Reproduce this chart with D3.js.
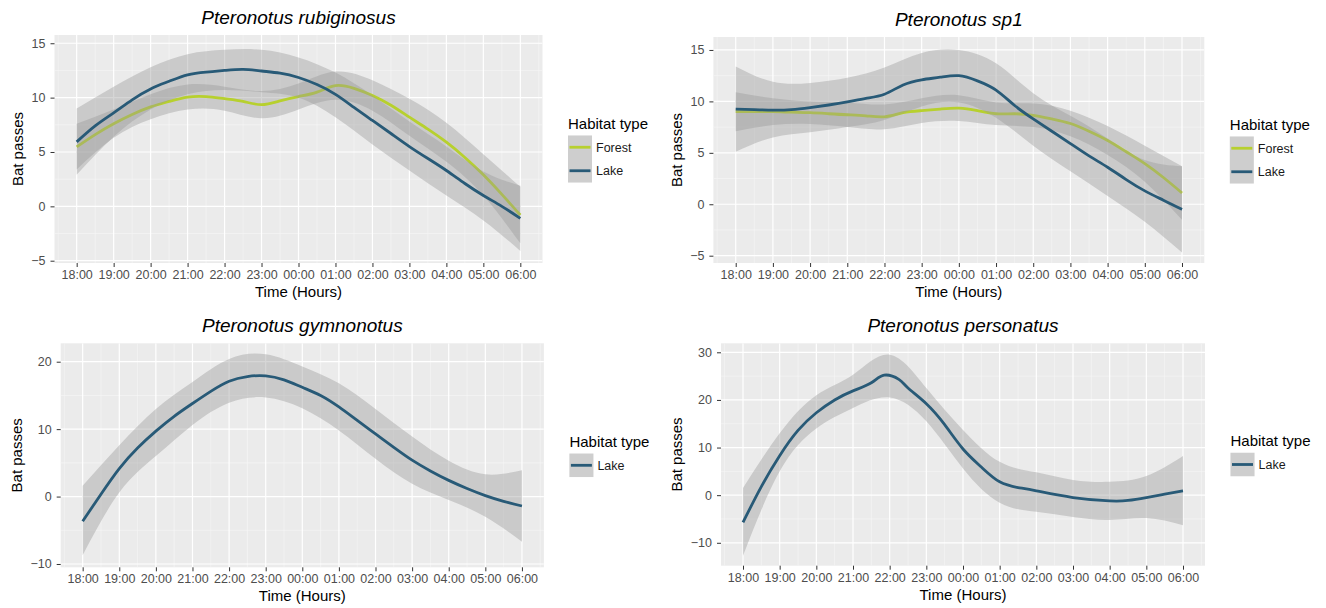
<!DOCTYPE html>
<html>
<head>
<meta charset="utf-8">
<script src="https://cdn.jsdelivr.net/npm/d3@7"></script>
<style>
body { margin: 0; background: #ffffff; }
text { font-family: Arial, "Liberation Sans", sans-serif; }
</style>
</head>
<body>
<svg id="chart" width="1326" height="608"></svg>
<script>
// hours after 18:00
var timeLabels = ["18:00", "19:00", "20:00", "21:00", "22:00", "23:00", "00:00", "01:00", "02:00", "03:00", "04:00", "05:00", "06:00"];
var habitatColors = {Forest: "#b7d02e", Lake: "#285a77"};

var halfHours = [0, 0.5, 1, 1.5, 2, 2.5, 3, 3.5, 4, 4.5, 5, 5.5, 6, 6.5, 7, 7.5, 8, 8.5, 9, 9.5, 10, 10.5, 11, 11.5, 12];
var wholeHours = [0, 1, 2, 3, 4, 5, 6, 7, 8, 9, 10, 11, 12];

// Pteronotus rubiginosus
var rubForestFit = [5.47, 6.6, 7.6, 8.45, 9.15, 9.65, 10.05, 10.1, 9.9, 9.65, 9.35, 9.7, 10.1, 10.5, 11.1, 10.85, 10.2, 9.3, 8.2, 7.1, 5.9, 4.5, 2.9, 1.1, -0.8];
var rubForestLow = [3.4, 6.3, 8.0, 8.9, 8.8, 8.1, 8.9, 9.8, 8.8, 6.5, 4.1, 1.0, -3.4];
var rubForestHigh = [7.6, 8.9, 10.3, 11.2, 11.0, 10.6, 11.3, 12.4, 11.6, 9.9, 7.7, 4.8, 1.8];
var rubLakeFit = [5.93, 7.4, 8.6, 9.8, 10.8, 11.5, 12.1, 12.35, 12.5, 12.6, 12.45, 12.25, 11.85, 11.2, 10.3, 9.1, 7.9, 6.7, 5.5, 4.4, 3.3, 2.1, 1.0, 0.0, -1.1];
var rubLakeLow = [2.9, 6.4, 8.9, 10.3, 10.7, 10.5, 10.0, 8.2, 5.7, 3.3, 1.0, -1.3, -4.1];
var rubLakeHigh = [9.0, 11.0, 12.8, 14.0, 14.4, 14.4, 13.7, 12.3, 10.2, 7.8, 5.5, 3.2, 1.9];

// Pteronotus sp1
var sp1ForestFit = [9.0, 9.0, 9.0, 8.95, 8.9, 8.8, 8.7, 8.6, 8.5, 8.9, 9.1, 9.25, 9.35, 9.1, 8.8, 8.8, 8.65, 8.3, 7.85, 7.1, 6.2, 5.1, 3.95, 2.6, 1.1];
var sp1ForestLow = [7.1, 7.7, 7.8, 7.5, 7.3, 7.9, 8.1, 7.7, 7.5, 6.6, 4.8, 2.2, -1.5];
var sp1ForestHigh = [10.9, 10.3, 10.0, 9.9, 9.7, 10.3, 10.6, 9.9, 9.8, 9.1, 7.6, 5.7, 3.7];
var sp1LakeFit = [9.24, 9.2, 9.15, 9.2, 9.4, 9.65, 9.95, 10.3, 10.7, 11.6, 12.1, 12.35, 12.5, 12.0, 11.1, 9.6, 8.3, 7.1, 5.9, 4.7, 3.6, 2.4, 1.3, 0.4, -0.5];
var sp1LakeLow = [5.1, 6.5, 7.0, 7.5, 8.2, 9.5, 9.9, 8.4, 5.7, 3.2, 0.8, -1.7, -4.7];
var sp1LakeHigh = [13.4, 11.9, 11.8, 12.3, 13.3, 14.7, 15.0, 13.7, 10.8, 8.6, 6.4, 4.3, 3.7];

// Pteronotus gymnonotus
var gymLakeFit = [-3.65, 0.35, 4.15, 7.2, 9.7, 11.9, 13.8, 15.6, 17.1, 17.8, 17.9, 17.3, 16.2, 15.0, 13.3, 11.3, 9.3, 7.3, 5.4, 3.8, 2.4, 1.2, 0.15, -0.7, -1.4];
var gymLakeLow = [-8.7, 0.6, 6.0, 10.6, 13.9, 14.7, 13.1, 9.8, 5.6, 1.9, -0.5, -3.0, -6.7];
var gymLakeHigh = [1.6, 7.6, 13.0, 17.0, 20.4, 21.1, 19.3, 16.8, 13.0, 8.9, 5.3, 3.3, 3.9];

// Pteronotus personatus
var perHours = [0, 0.5, 1, 1.5, 2, 2.5, 3, 3.5, 3.85, 4.25, 4.5, 5, 5.5, 6, 6.5, 7, 7.5, 8, 9, 10, 10.5, 11, 11.5, 12];
var perLakeFit = [-5.7, 1.8, 8.3, 13.6, 17.3, 20.0, 21.9, 23.6, 25.2, 24.3, 22.5, 19.2, 14.8, 9.7, 5.9, 2.8, 1.6, 0.9, -0.5, -1.2, -1.1, -0.5, 0.2, 0.9];
var perLakeLow = [-12.7, 5.0, 14.0, 18.3, 20.5, 15.5, 5.6, -1.6, -3.5, -4.6, -5.2, -4.8, -6.3];
var perLakeHigh = [1.5, 13.0, 21.0, 25.3, 29.5, 22.5, 13.7, 7.0, 4.8, 3.2, 2.8, 4.0, 8.2];

var panels = [
    {title: "Pteronotus rubiginosus", left: 54.5, right: 542.5, top: 35, bottom: 263, yMin: -5.21, yMax: 15.76, yStep: 5,
     series: [
        {habitat: "Forest", hours: halfHours, fit: rubForestFit, low: rubForestLow, high: rubForestHigh},
        {habitat: "Lake", hours: halfHours, fit: rubLakeFit, low: rubLakeLow, high: rubLakeHigh}
     ]},
    {title: "Pteronotus sp1", left: 713.4, right: 1204.3, top: 37, bottom: 263, yMin: -5.71, yMax: 16.26, yStep: 5,
     series: [
        {habitat: "Forest", hours: halfHours, fit: sp1ForestFit, low: sp1ForestLow, high: sp1ForestHigh},
        {habitat: "Lake", hours: halfHours, fit: sp1LakeFit, low: sp1LakeLow, high: sp1LakeHigh}
     ]},
    {title: "Pteronotus gymnonotus", left: 60.7, right: 543.9, top: 343.3, bottom: 567.3, yMin: -10.49, yMax: 22.73, yStep: 10,
     series: [
        {habitat: "Lake", hours: halfHours, fit: gymLakeFit, low: gymLakeLow, high: gymLakeHigh}
     ]},
    {title: "Pteronotus personatus", left: 721, right: 1205, top: 343.3, bottom: 565.7, yMin: -14.81, yMax: 31.89, yStep: 10,
     series: [
        {habitat: "Lake", hours: perHours, fit: perLakeFit, low: perLakeLow, high: perLakeHigh}
     ]}
];

var svg = d3.select("#chart");

var halfSteps = function(lo, hi, step)
{
    var out = [];
    for (var v = Math.ceil(lo / step) * step; v <= hi; v += step)
    {
        out.push(Math.round(v * 100) / 100);
    }
    return out;
}

var drawPanel = function(p, index)
{
    var x = d3.scaleLinear().domain([-0.6, 12.6]).range([p.left, p.right]);
    var y = d3.scaleLinear().domain([p.yMin, p.yMax]).range([p.bottom, p.top]);
    var g = svg.append("g").attr("class", "panel");

    g.append("clipPath")
        .attr("id", "clip" + index)
        .append("rect")
        .attr("x", p.left).attr("y", p.top)
        .attr("width", p.right - p.left).attr("height", p.bottom - p.top);

    g.append("rect")
        .attr("x", p.left).attr("y", p.top)
        .attr("width", p.right - p.left).attr("height", p.bottom - p.top)
        .attr("fill", "#ebebeb");

    var xMinor = halfSteps(-0.6, 12.6, 0.5).filter(function(h){return h % 1 != 0;});
    var yMajor = halfSteps(p.yMin, p.yMax, p.yStep);
    var yMinor = halfSteps(p.yMin, p.yMax, p.yStep / 2).filter(function(v){return yMajor.indexOf(v) < 0;});

    var grid = g.append("g").attr("clip-path", "url(#clip" + index + ")");
    grid.selectAll(".xminor").data(xMinor).enter().append("line")
        .attr("x1", x).attr("x2", x).attr("y1", p.top).attr("y2", p.bottom)
        .attr("stroke", "#f7f7f7").attr("stroke-width", 0.6);
    grid.selectAll(".yminor").data(yMinor).enter().append("line")
        .attr("y1", y).attr("y2", y).attr("x1", p.left).attr("x2", p.right)
        .attr("stroke", "#f7f7f7").attr("stroke-width", 0.6);
    grid.selectAll(".xmajor").data(wholeHours).enter().append("line")
        .attr("x1", x).attr("x2", x).attr("y1", p.top).attr("y2", p.bottom)
        .attr("stroke", "#ffffff").attr("stroke-width", 1.2);
    grid.selectAll(".ymajor").data(yMajor).enter().append("line")
        .attr("y1", y).attr("y2", y).attr("x1", p.left).attr("x2", p.right)
        .attr("stroke", "#ffffff").attr("stroke-width", 1.2);

    var area = d3.area()
        .x(function(d){return x(d[0]);})
        .y0(function(d){return y(d[1]);})
        .y1(function(d){return y(d[2]);})
        .curve(d3.curveNatural);
    var line = d3.line()
        .x(function(d){return x(d[0]);})
        .y(function(d){return y(d[1]);})
        .curve(d3.curveNatural);

    var marks = g.append("g").attr("clip-path", "url(#clip" + index + ")");
    p.series.forEach(function(s)
    {
        var band = wholeHours.map(function(h, i){return [h, s.low[i], s.high[i]];});
        var fit = s.hours.map(function(h, i){return [h, s.fit[i]];});
        marks.append("path")
            .datum(band)
            .attr("d", area)
            .attr("fill", "#999999")
            .attr("fill-opacity", 0.4);
        marks.append("path")
            .datum(fit)
            .attr("d", line)
            .attr("fill", "none")
            .attr("stroke", habitatColors[s.habitat])
            .attr("stroke-width", 2.8);
    });

    var xAxis = d3.axisBottom(x)
        .tickValues(wholeHours)
        .tickFormat(function(h){return timeLabels[h];})
        .tickSize(4)
        .tickPadding(3);
    var yAxis = d3.axisLeft(y)
        .tickValues(yMajor)
        .tickSize(4)
        .tickPadding(5);

    var xg = g.append("g")
        .attr("transform", "translate(0," + p.bottom + ")")
        .call(xAxis);
    var yg = g.append("g")
        .attr("transform", "translate(" + p.left + ",0)")
        .call(yAxis);

    [xg, yg].forEach(function(ax)
    {
        ax.select(".domain").remove();
        ax.selectAll(".tick line").attr("stroke", "#333333");
        ax.selectAll(".tick text")
            .attr("fill", "#4d4d4d")
            .style("font-size", "12.5px")
            .style("font-family", "Arial, 'Liberation Sans', sans-serif");
    });

    g.append("text")
        .attr("x", (p.left + p.right) / 2)
        .attr("y", p.top - 11)
        .attr("text-anchor", "middle")
        .style("font-size", "19px")
        .style("font-style", "italic")
        .attr("fill", "#000000")
        .text(p.title);

    g.append("text")
        .attr("x", (p.left + p.right) / 2)
        .attr("y", p.bottom + 34)
        .attr("text-anchor", "middle")
        .style("font-size", "15px")
        .attr("fill", "#000000")
        .text("Time (Hours)");

    var yBox = yg.node().getBBox();
    var titleX = p.left + yBox.x - 8.5;
    g.append("text")
        .attr("transform", "translate(" + titleX + "," + ((p.top + p.bottom) / 2) + ") rotate(-90)")
        .attr("text-anchor", "middle")
        .style("font-size", "15px")
        .attr("fill", "#000000")
        .text("Bat passes");

    // legend
    var keyW = 24, keyH = 23.5;
    var legH = 22 + p.series.length * keyH;
    var lx = p.right + 25.5;
    var ly = (p.top + p.bottom) / 2 - legH / 2;
    var leg = g.append("g").attr("transform", "translate(" + lx + "," + ly + ")");
    leg.append("text")
        .attr("x", 0)
        .attr("y", 14.4)
        .style("font-size", "15px")
        .attr("fill", "#000000")
        .text("Habitat type");
    var keys = leg.selectAll(".key")
        .data(p.series)
        .enter()
        .append("g")
        .attr("transform", function(s, i){return "translate(0," + (21 + i * keyH) + ")";});
    keys.append("rect")
        .attr("width", keyW).attr("height", keyH)
        .attr("fill", "#f2f2f2");
    keys.append("rect")
        .attr("width", keyW).attr("height", keyH)
        .attr("fill", "#999999").attr("fill-opacity", 0.4);
    keys.append("line")
        .attr("x1", 1.5).attr("x2", keyW - 1.5)
        .attr("y1", keyH / 2).attr("y2", keyH / 2)
        .attr("stroke", function(s){return habitatColors[s.habitat];})
        .attr("stroke-width", 2.8);
    keys.append("text")
        .attr("x", keyW + 4)
        .attr("y", keyH / 2 + 4.3)
        .style("font-size", "12.5px")
        .attr("fill", "#1a1a1a")
        .text(function(s){return s.habitat;});
}

panels.forEach(drawPanel);
</script>
</body>
</html>
